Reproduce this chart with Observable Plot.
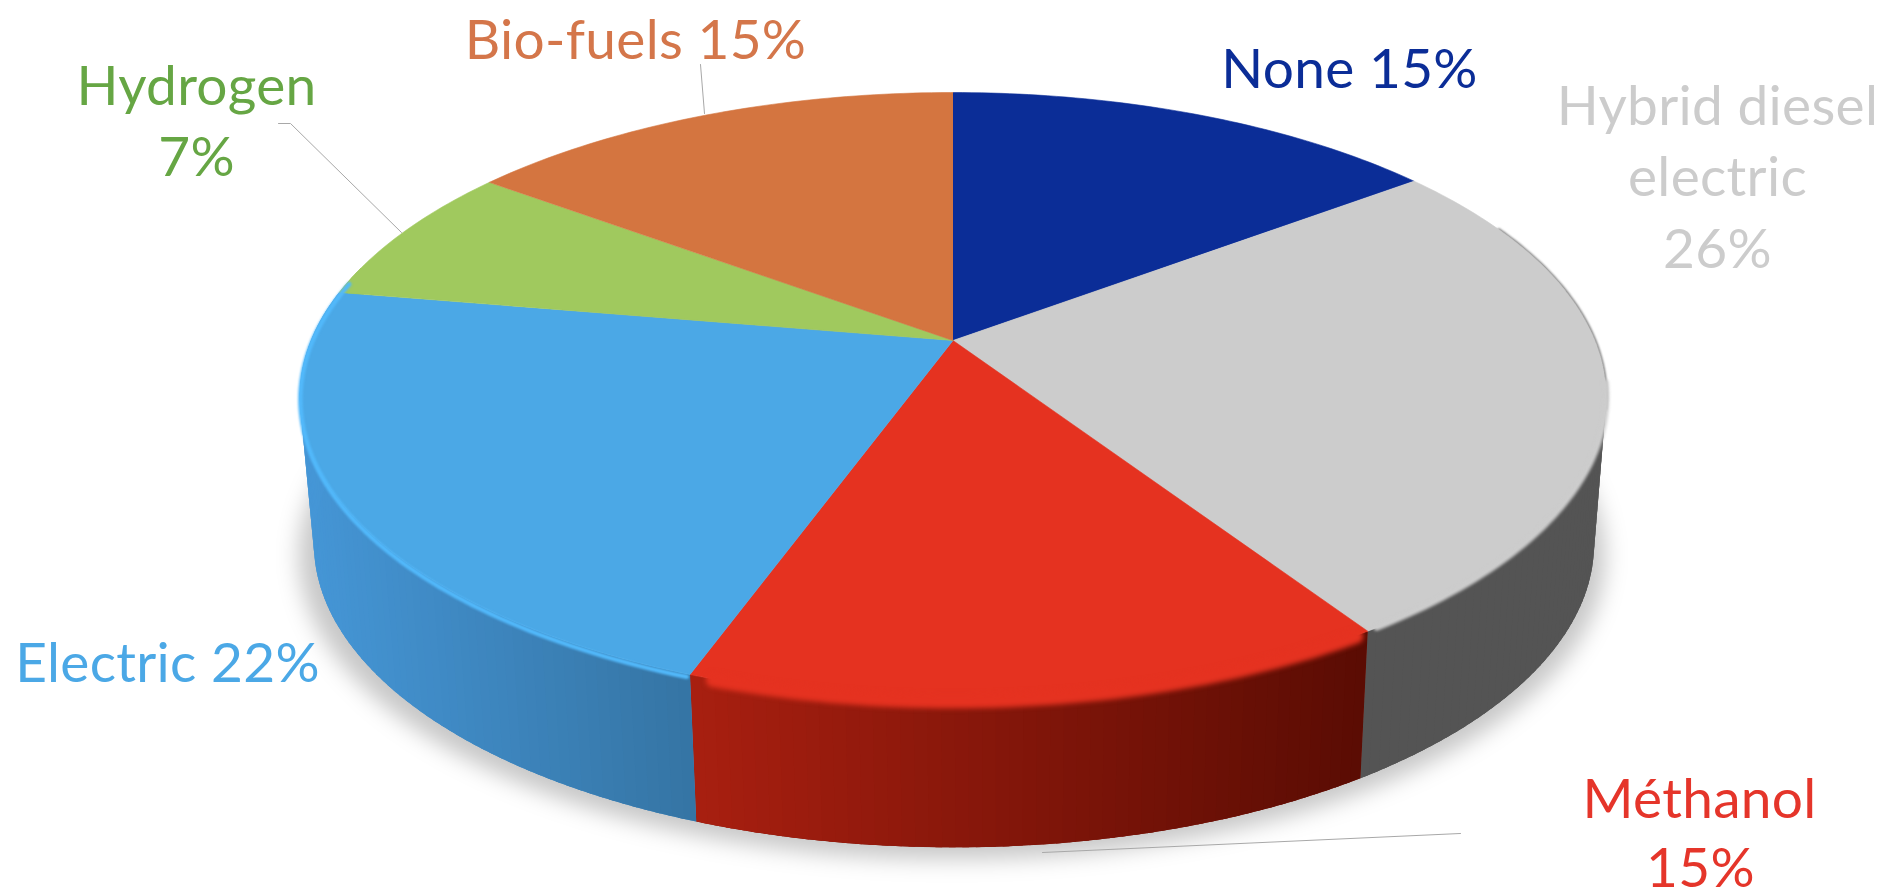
<!DOCTYPE html>
<html><head><meta charset="utf-8">
<script src="https://cdn.jsdelivr.net/npm/d3@7"></script>
<script src="https://cdn.jsdelivr.net/npm/@observablehq/plot@0.6"></script>
<style>html,body{margin:0;padding:0;background:#fff}svg{display:block}</style>
</head><body><div id="chart"></div>
<script>
const categories = ["None", "Hybrid diesel electric", "Méthanol", "Electric", "Hydrogen", "Bio-fuels"];
// Slice widths as measured on the picture (the printed labels are in labelLines)
const shares = [14.7, 26.1, 14.7, 22.2, 7.5, 14.8];
const topColors = ["#0b2d97", "#cccccc", "#e53220", "#4ba8e6", "#a0c95e", "#d47540"];
const wallColors = [["#0b2d97","#0b2d97"], ["#545454","#545454"], ["#a81f10","#5a0c03"], ["#4596d6","#3574a4"], ["#a0c95e","#a0c95e"], ["#d47540","#d47540"]];
const labelColors = ["#0b2d97", "#cccccc", "#e5352a", "#4ba8e6", "#66a644", "#d4764a"];
const labelLines = [
  {text:"None 15%", x:1349, y:87, i:0},
  {text:"Hybrid diesel", x:1717, y:124, i:1},
  {text:"electric", x:1717, y:195, i:1},
  {text:"26%", x:1717, y:267, i:1},
  {text:"Méthanol", x:1699, y:817, i:2},
  {text:"15%", x:1700, y:886, i:2},
  {text:"Electric 22%", x:167, y:681, i:3},
  {text:"Hydrogen", x:196, y:104, i:4},
  {text:"7%", x:196, y:175, i:4},
  {text:"Bio-fuels 15%", x:635, y:58, i:5}
];
const leaders = [
  [[700,64],[704,113]],
  [[278,123],[290,123],[401,232]],
  [[1460,833],[1042,852]]
];

// disc seen in perspective
const cx = 952.5, cy = 340, R = 642, S = 293.6, K = 0.184, depth = 147;
const rad = d => d * Math.PI / 180;
function rim(a) {
  const X = Math.sin(rad(a)), Y = -Math.cos(rad(a)), den = 1 - K * Y;
  return [cx + R * X / den, cy + S * Y / den];
}
function base(a, scale = 0.98, off = depth) {
  const [x, y] = rim(a);
  return [953.5 + (x - cx) * scale, y + off];
}
const cum = d3.cumsum(shares);
const starts = categories.map((_, i) => (i ? cum[i - 1] : 0) * 3.6);
const ends = categories.map((_, i) => cum[i] * 3.6);

const tops = [], under = [], walls = [], bevelGrey = [], bevelRed = [], edge = [];
categories.forEach((c, i) => {
  tops.push({x: cx, y: cy, id: c, fill: topColors[i]});
  for (let a = starts[i]; ; a += 1) {
    const t = Math.min(a, ends[i]);
    const [x, y] = rim(t);
    tops.push({x, y, id: c, fill: topColors[i]});
    if (a >= ends[i]) break;
  }
});
function wallColor(i, x) {
  const x0 = rim(i === 3 ? 262 : starts[i])[0], x1 = i === 3 ? rim(starts[i])[0] : rim(ends[i])[0];
  const lo = Math.min(x0, x1), hi = Math.max(x0, x1);
  const f = Math.max(0, Math.min(1, (x - lo) / (hi - lo)));
  return d3.interpolateRgb(wallColors[i][0], wallColors[i][1])(f);
}
const wallRange = [80, 285];
categories.forEach((c, i) => {
  const a0 = Math.max(starts[i], wallRange[0]), a1 = Math.min(ends[i], wallRange[1]);
  if (a0 >= a1) return;
  // one solid piece under the shaded strips, so no background shows between them
  const steps = d3.range(a0, a1, 1).concat(a1);
  const mid = wallColor(i, rim((a0 + a1) / 2)[0]);
  steps.forEach(a => { const [x, y] = rim(a); under.push({x, y, id: c, fill: mid}); });
  steps.slice().reverse().forEach(a => { const [x, y] = base(a); under.push({x, y, id: c, fill: mid}); });
  for (let a = a0; a < a1; a += 1) {
    const b = Math.min(a + 1.5, a1), id = c + a;
    const p = [rim(a), rim(b), base(b), base(a), rim(a)];
    const fill = wallColor(i, rim(a + 0.5)[0]);
    p.forEach(([x, y]) => walls.push({x, y, id, fill}));
  }
});
// soft bevel: the top colour bleeds a few pixels over the side wall
d3.range(98, ends[1] - 0.5, 1).forEach(a => { const [x, y] = rim(a); bevelGrey.push({x, y}); });
d3.range(starts[2] + 1.1, ends[2] - 1, 1).forEach(a => { const [x, y] = rim(a); bevelRed.push({x, y: y + 1}); });
// thin shaded outline on the far right of the grey slice
d3.range(66, 104, 1).forEach(a => {
  const [x, y] = rim(a);
  edge.push({x, y});
});
const glow = d3.range(starts[3] + 0.3, 283, 1).map(a => {
  const [x, y] = rim(a);
  return {x: x + 0.5, y: y + 3};
});
const shadow = d3.range(0, 360, 2).map(a => {
  const [x, y] = base(a, 1.0, depth + 12);
  return {x: x - 2, y};
});
const leaderData = leaders.flatMap((l, id) => l.map(([x, y]) => ({x, y, id})));

const plot = Plot.plot({
  width: 1885, height: 893,
  margin: 0,
  style: {background: "#fff", letterSpacing: "0.3px"},
  x: {domain: [0, 1885], range: [0, 1885], axis: null},
  y: {domain: [0, 893], range: [0, 893], axis: null},
  color: {type: "identity"},
  marks: [
    Plot.line(shadow, {x: "x", y: "y", fill: "#000", fillOpacity: 0.22, stroke: "none", imageFilter: "blur(11px)"}),
    Plot.line(under, {x: "x", y: "y", z: "id", fill: "fill", stroke: "none"}),
    Plot.line(walls, {x: "x", y: "y", z: "id", fill: "fill", stroke: "none"}),
    Plot.line(edge, {x: "x", y: "y", stroke: "#6a6a6a", strokeWidth: 2.4, imageFilter: "blur(0.8px)"}),
    Plot.line(tops, {x: "x", y: "y", z: "id", fill: "fill", stroke: "fill", strokeWidth: 0.6}),
    Plot.line(bevelGrey, {x: "x", y: "y", stroke: "#cccccc", strokeWidth: 6, imageFilter: "blur(1.6px)"}),
    Plot.line(bevelRed, {x: "x", y: "y", stroke: "#e53220", strokeWidth: 14, imageFilter: "blur(2.4px)"}),
    Plot.line(glow, {x: "x", y: "y", stroke: "#52b9fb", strokeWidth: 4.5, imageFilter: "blur(1.2px)"}),
    Plot.line(leaderData, {x: "x", y: "y", z: "id", stroke: "#a8a8a8", strokeWidth: 1}),
    Plot.text(labelLines, {x: "x", y: "y", text: "text", fill: d => labelColors[d.i], fontFamily: "Lato", fontSize: 55, lineAnchor: "bottom", textAnchor: "middle"})
  ]
});
document.getElementById("chart").append(plot);
</script></body></html>
